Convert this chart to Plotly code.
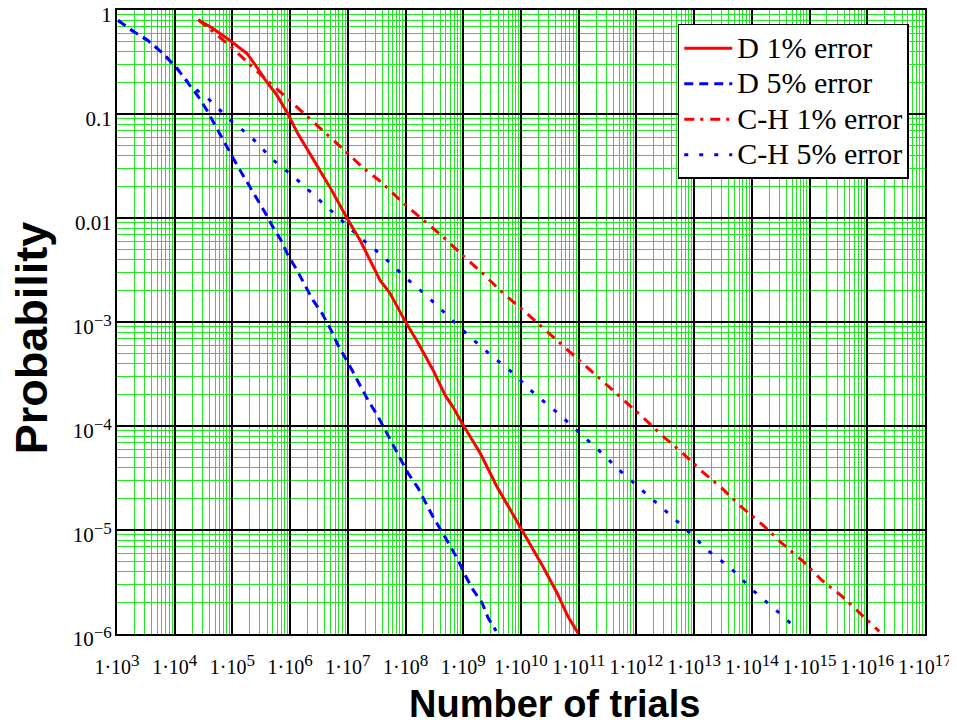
import plotly.graph_objects as go

# ---------------- data ----------------
d1_trials = [2.56e4, 4.6e4, 9.1e4, 1.79e5, 2.67e5, 3.98e5, 5.93e5, 8.84e5, 1.32e6, 2.21e6,
             4.92e6, 9.69e6, 1.63e7, 3.61e7, 5.38e7, 9.8e7, 1.65e8, 3.0e8, 4.84e8, 6.65e8,
             9.93e8, 1.96e9, 3.85e9, 7.02e9, 1.04e10, 1.62e10, 2.42e10, 4.22e10, 6.55e10, 9.77e10]
d1_prob = [0.805, 0.664, 0.509, 0.382, 0.280, 0.201, 0.151, 0.104, 0.0666, 0.0418,
           0.0197, 0.00993, 0.00611, 0.00252, 0.00189, 0.00102, 6.27e-4, 3.44e-4, 1.98e-4, 1.52e-4,
           1.02e-4, 5.5e-5, 2.59e-5, 1.46e-5, 1.0e-5, 6.43e-6, 4.41e-6, 2.48e-6, 1.46e-6, 1.02e-6]

d5_trials = [1.05e3, 1.82e3, 3.44e3, 6.27e3, 1.1e4, 1.7e4, 2.54e4, 3.63e4, 4.99e4, 6.87e4,
             9.46e4, 1.36e5, 1.86e5, 2.56e5, 3.67e5, 5.05e5, 6.96e5, 9.2e5, 1.32e6, 1.81e6,
             2.49e6, 3.57e6, 4.92e6, 6.5e6, 8.93e6, 1.23e7, 1.69e7, 2.33e7, 3.21e7, 4.42e7,
             6.07e7, 8.03e7, 1.1e8, 1.65e8, 2.18e8, 3.0e8, 4.3e8, 5.9e8, 8.13e8, 1.07e9,
             1.48e9, 2.12e9, 2.69e9, 3.7e9]
d5_prob = [0.793, 0.635, 0.509, 0.382, 0.274, 0.201, 0.148, 0.108, 0.0777, 0.0557,
           0.0409, 0.0287, 0.0215, 0.0155, 0.0113, 0.00814, 0.00611, 0.00438, 0.00314, 0.00225,
           0.00162, 0.00121, 8.71e-4, 6.25e-4, 4.59e-4, 3.3e-4, 2.36e-4, 1.7e-4, 1.28e-4, 9.12e-5,
           6.56e-5, 4.92e-5, 3.53e-5, 2.53e-5, 1.86e-5, 1.33e-5, 9.57e-6, 7.02e-6, 5.15e-6, 3.7e-6,
           2.65e-6, 1.99e-6, 1.43e-6, 1.07e-6]

ch1_trials = [2.56e4, 4.61e4, 1.02e5, 2.27e5, 5.05e5, 1.12e6, 2.49e6, 5.53e6, 8.26e6, 1.76e7,
              3.92e7, 8.69e7, 2.01e8, 4.47e8, 9.53e8, 2.12e9, 4.9e9, 1.04e10, 2.42e10, 5.37e10,
              1.15e11, 2.54e11, 5.65e11, 1.26e12, 2.79e12, 6.19e12, 1.38e13, 3.06e13, 6.8e13, 1.51e14,
              3.35e14, 7.45e14, 1.65e15, 3.67e15, 8.17e15, 1.61e16]
ch1_prob = [0.805, 0.621, 0.427, 0.28, 0.188, 0.126, 0.0858, 0.0577, 0.0462, 0.031,
            0.0218, 0.0142, 0.00961, 0.00659, 0.00443, 0.00297, 0.00189, 0.00133, 8.73e-4, 5.92e-4,
            4.06e-4, 2.73e-4, 1.83e-4, 1.23e-4, 8.09e-5, 5.55e-5, 3.65e-5, 2.51e-5, 1.64e-5, 1.13e-5,
            7.42e-6, 5.09e-6, 3.27e-6, 2.3e-6, 1.51e-6, 1.06e-6]

ch5_trials = [1.05e3, 1.82e3, 3.44e3, 6.27e3, 1.1e4, 1.7e4, 2.43e4, 3.78e4, 9.08e4, 2.19e5,
              5.05e5, 1.22e6, 2.93e6, 7.03e6, 1.69e7, 4.07e7, 9.42e7, 2.27e8, 5.45e8, 1.26e9,
              3.15e9, 7.29e9, 1.75e10, 4.22e10, 1.02e11, 2.35e11, 5.65e11, 1.36e12, 3.27e12, 7.57e12,
              1.82e13, 4.38e13, 1.05e14, 2.44e14, 5.86e14]
ch5_prob = [0.793, 0.635, 0.509, 0.382, 0.274, 0.201, 0.169, 0.141, 0.0878, 0.0589,
            0.0362, 0.0243, 0.0156, 0.01, 0.00638, 0.00429, 0.00275, 0.00181, 0.00114, 7.31e-4,
            4.7e-4, 3.22e-4, 2.02e-4, 1.35e-4, 8.65e-5, 5.68e-5, 3.56e-5, 2.34e-5, 1.51e-5, 9.89e-6,
            6.22e-6, 4.27e-6, 2.62e-6, 1.76e-6, 1.13e-6]

series_names = ["D 1% error", "D 5% error", "C-H 1% error", "C-H 5% error"]

x_exponents = list(range(3, 18))
y_exponents = list(range(-6, 1))
y_plain_labels = {-2: "0.01", -1: "0.1", 0: "1"}

x_title = "Number of trials"
y_title = "Probability"

# ---------------- figure ----------------
SUP = '<sup><span style="font-size:17px">%s</span></sup>'
LEG = '<span style="font-size:30px">%s</span>'
x_tick_vals = [10.0 ** k for k in x_exponents]
x_tick_text = ["1·10" + SUP % k for k in x_exponents]
y_tick_vals = [10.0 ** k for k in y_exponents]
y_tick_text = [y_plain_labels.get(k, "10" + SUP % ("−%d" % -k)) for k in y_exponents]
x_minor = [m * 10.0 ** k for k in x_exponents[:-1] for m in range(2, 10)]
y_minor = [m * 10.0 ** k for k in y_exponents[:-1] for m in range(2, 10)]

RED = "#ff0000"
BLUE = "#0000ff"
GREEN = "#1ee81e"

fig = go.Figure()
fig.add_trace(go.Scatter(x=d5_trials, y=d5_prob, mode="lines", name=LEG % series_names[1],
                         line=dict(color=BLUE, width=3, dash="9px,6px"), legendrank=2))
fig.add_trace(go.Scatter(x=ch5_trials, y=ch5_prob, mode="lines", name=LEG % series_names[3],
                         line=dict(color=BLUE, width=3, dash="4px,11px"), legendrank=4))
fig.add_trace(go.Scatter(x=ch1_trials, y=ch1_prob, mode="lines", name=LEG % series_names[2],
                         line=dict(color=RED, width=3, dash="10px,6px,3px,7px"), legendrank=3))
fig.add_trace(go.Scatter(x=d1_trials, y=d1_prob, mode="lines", name=LEG % series_names[0],
                         line=dict(color=RED, width=3), legendrank=1))

serif = "Liberation Serif"
sans = "Liberation Sans"

fig.update_xaxes(
    type="log", range=[3, 17], automargin=False, ticklabeloverflow="allow",
    tickmode="array", tickvals=x_tick_vals, ticktext=x_tick_text, tickangle=0,
    tickfont=dict(family=serif, size=20, color="black"),
    ticks="outside", ticklen=14, tickcolor="rgba(0,0,0,0)",
    showgrid=True, gridcolor="black", gridwidth=2,
    minor=dict(tickmode="array", tickvals=x_minor, showgrid=True, gridcolor=GREEN, gridwidth=1, ticks=""),
    showline=True, linecolor="black", linewidth=2, mirror=True, zeroline=False,
)
fig.update_yaxes(
    type="log", range=[-6, 0], automargin=False, ticklabeloverflow="allow",
    ticklabelshift=5, ticklabelstandoff=-1,
    tickmode="array", tickvals=y_tick_vals, ticktext=y_tick_text,
    tickfont=dict(family=serif, size=21, color="black"),
    ticks="", ticklen=0,
    showgrid=True, gridcolor="black", gridwidth=2,
    minor=dict(tickmode="array", tickvals=y_minor, showgrid=True, gridcolor=GREEN, gridwidth=1, ticks=""),
    showline=True, linecolor="black", linewidth=2, mirror=True, zeroline=False,
)

fig.add_annotation(text="<b>%s</b>" % x_title, xref="paper", yref="paper", x=0.542, y=-0.112,
                   xanchor="center", yanchor="middle", showarrow=False,
                   font=dict(family=sans, size=38, color="black"))
fig.add_annotation(text="<b>%s</b>" % y_title, xref="paper", yref="paper", x=-0.1055, y=0.475,
                   xanchor="center", yanchor="middle", showarrow=False, textangle=-90,
                   font=dict(family=sans, size=45, color="black"))

# the page body adds an 8px offset, so the figure is sized to fit the 957x725 window
fig.update_layout(
    width=949, height=717,
    margin=dict(l=109, r=32, t=2, b=91),
    paper_bgcolor="white", plot_bgcolor="white",
    showlegend=True,
    legend=dict(x=0.694, y=0.9776, xanchor="left", yanchor="top",
                bgcolor="white", bordercolor="black", borderwidth=1.5,
                font=dict(family=serif, size=25, color="black"),
                itemwidth=48, traceorder="normal", tracegroupgap=0),
)

fig.write_html("out.html")
